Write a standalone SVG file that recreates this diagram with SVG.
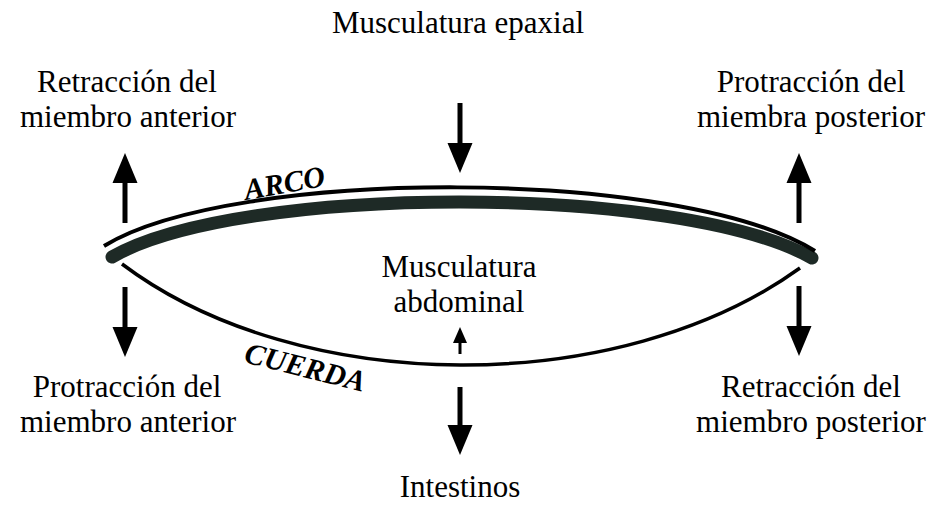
<svg xmlns="http://www.w3.org/2000/svg" width="928" height="513" viewBox="0 0 928 513">
<defs>
<style>
.lbl{font-family:"Liberation Serif","Times New Roman",serif;font-size:31px;fill:#000;text-anchor:middle}
.tag{font-family:"Liberation Serif","Times New Roman",serif;font-size:30px;font-weight:bold;font-style:italic;fill:#000}
.shaft{stroke:#000;stroke-width:5;fill:none}
.shaft-s{stroke:#000;stroke-width:3;fill:none}
</style>
<marker id="head" markerUnits="userSpaceOnUse" viewBox="0 -13 30 26" refX="0" refY="0" markerWidth="30" markerHeight="26" orient="auto">
<path d="M0,-12.5 L30,0 L0,12.5 z" fill="#000"/>
</marker>
<marker id="headS" markerUnits="userSpaceOnUse" viewBox="0 -8 16 16" refX="0" refY="0" markerWidth="16" markerHeight="16" orient="auto">
<path d="M0,-7 L16,0 L0,7 z" fill="#000"/>
</marker>
</defs>
<rect width="928" height="513" fill="#fff"/>

<g id="body">
<path id="arco-band" d="M112,257 C240,183.5 680,183.5 812,258" fill="none" stroke="#1e2a26" stroke-width="13" stroke-linecap="round"/>
<path id="arco-line" d="M104,246 C233,167 680,167 815,251" fill="none" stroke="#000" stroke-width="4"/>
<path id="cuerda" d="M122,264 C300,398 620,398 800,268" fill="none" stroke="#000" stroke-width="3.5"/>
</g>

<g id="connectors">
<line class="shaft" x1="460" y1="103" x2="460" y2="143" marker-end="url(#head)"/>
<line class="shaft" x1="125" y1="223" x2="125" y2="183" marker-end="url(#head)"/>
<line class="shaft" x1="125" y1="287" x2="125" y2="327" marker-end="url(#head)"/>
<line class="shaft" x1="799" y1="223" x2="799" y2="183" marker-end="url(#head)"/>
<line class="shaft" x1="799" y1="286" x2="799" y2="326" marker-end="url(#head)"/>
<line class="shaft" x1="460" y1="387" x2="460" y2="425" marker-end="url(#head)"/>
<line class="shaft-s" x1="460" y1="354" x2="460" y2="343" marker-end="url(#headS)"/>
</g>

<g id="epaxial"><text class="lbl" x="458" y="33">Musculatura epaxial</text></g>
<g id="retraccion-anterior"><text class="lbl" x="127" y="92">Retracción del</text><text class="lbl" x="128" y="127">miembro anterior</text></g>
<g id="protraccion-posterior"><text class="lbl" x="811" y="92">Protracción del</text><text class="lbl" x="811" y="127">miembra posterior</text></g>
<g id="abdominal"><text class="lbl" x="459" y="277">Musculatura</text><text class="lbl" x="459" y="312">abdominal</text></g>
<g id="protraccion-anterior"><text class="lbl" x="127" y="397">Protracción del</text><text class="lbl" x="128" y="432">miembro anterior</text></g>
<g id="retraccion-posterior"><text class="lbl" x="811" y="397">Retracción del</text><text class="lbl" x="811" y="432">miembro posterior</text></g>
<g id="intestinos"><text class="lbl" x="460" y="497">Intestinos</text></g>
<g id="arco-label"><text class="tag" x="246" y="200" transform="rotate(-10 246 200)">ARCO</text></g>
<g id="cuerda-label"><text class="tag" x="243" y="362" transform="rotate(14 243 362)">CUERDA</text></g>
</svg>
